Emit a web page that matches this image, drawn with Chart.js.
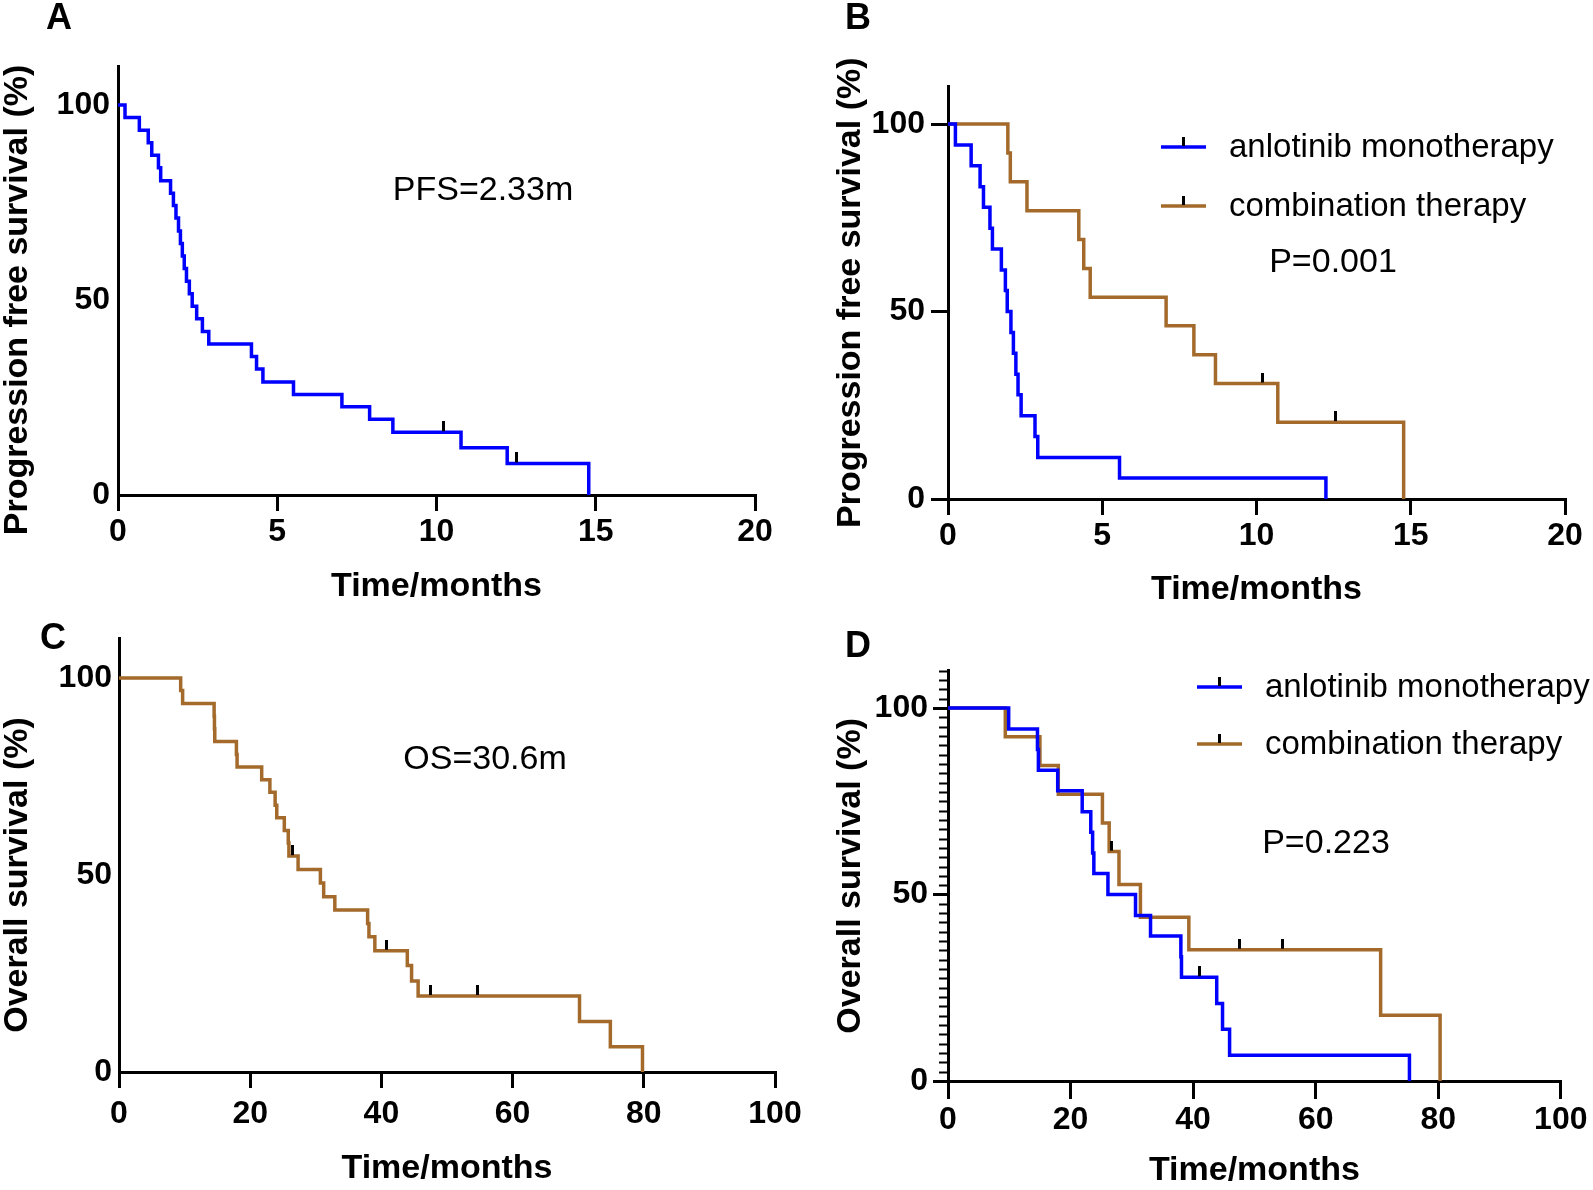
<!DOCTYPE html>
<html>
<head>
<meta charset="utf-8">
<script src="https://cdn.jsdelivr.net/npm/chart.js@4.4.1/dist/chart.umd.min.js"></script>
<style>
  body { margin: 0; background: #fff; }
  #wrap { position: relative; width: 1593px; height: 1190px; overflow: hidden; background: #fff; }
  canvas { position: absolute; }
</style>
</head>
<body>
<div id="wrap">
  <canvas id="chartA" width="796" height="604" style="left:0;top:0"></canvas>
  <canvas id="chartB" width="793" height="607" style="left:800px;top:0"></canvas>
  <canvas id="chartC" width="830" height="586" style="left:0;top:600px"></canvas>
  <canvas id="chartD" width="793" height="588" style="left:800px;top:600px"></canvas>
</div>
<script>
// ---- data (months, % surviving) ----
// A: PFS, all patients
const pfsAllTime = [0, 0.22, 0.67, 0.95, 1.06, 1.27, 1.34, 1.65, 1.74, 1.82, 1.9, 1.96, 2.02, 2.08, 2.15, 2.24, 2.33, 2.47, 2.65, 2.85, 4.19, 4.35, 4.55, 5.51, 7.03, 7.9, 8.63, 10.77, 12.22, 14.78];
const pfsAllSurv = [100, 96.8, 93.5, 90.3, 87.1, 83.9, 80.6, 77.4, 74.2, 71.0, 67.7, 64.5, 61.3, 58.1, 54.8, 51.6, 48.4, 45.2, 41.9, 38.7, 35.5, 32.3, 29.0, 25.8, 22.6, 19.4, 16.1, 12.1, 8.1, 0];
const pfsAllCensTime = [10.22, 12.52];
const pfsAllCensSurv = [16.1, 8.1];

// B: PFS by group
const pfsMonoTime = [0, 0.24, 0.75, 1.04, 1.15, 1.36, 1.44, 1.73, 1.86, 1.92, 2.04, 2.12, 2.2, 2.27, 2.37, 2.82, 2.91, 5.56, 12.25];
const pfsMonoSurv = [100, 94.4, 88.9, 83.3, 77.8, 72.2, 66.7, 61.1, 55.6, 50.0, 44.4, 38.9, 33.3, 27.8, 22.2, 16.7, 11.1, 5.6, 0];
const pfsComboTime = [0, 1.94, 2.02, 2.56, 4.24, 4.4, 4.61, 7.07, 7.97, 8.67, 10.69, 14.77];
const pfsComboSurv = [100, 92.3, 84.6, 76.9, 69.2, 61.5, 53.8, 46.2, 38.5, 30.8, 20.5, 0];
const pfsComboCensTime = [10.18, 12.55];
const pfsComboCensSurv = [30.8, 20.5];

// C: OS, all patients
const osAllTime = [0, 9.4, 9.7, 14.5, 14.55, 14.6, 17.9, 18.0, 21.75, 23.0, 23.8, 24.05, 25.2, 25.8, 25.9, 27.3, 30.7, 31.2, 32.9, 37.9, 38.1, 39.0, 43.95, 44.6, 45.6, 70.2, 74.9, 79.8];
const osAllSurv = [100, 96.8, 93.5, 90.3, 87.1, 83.9, 80.6, 77.4, 74.2, 71.0, 67.7, 64.5, 61.3, 58.1, 54.8, 51.4, 48.0, 44.5, 41.1, 37.7, 34.3, 30.8, 27.0, 23.1, 19.3, 12.8, 6.4, 0];
const osAllCensTime = [26.4, 40.8, 47.5, 54.6];
const osAllCensSurv = [54.8, 30.8, 19.3, 19.3];

// D: OS by group
const osMonoTime = [0, 9.9, 14.6, 14.75, 17.9, 21.9, 23.3, 23.6, 23.8, 26.1, 30.6, 33.05, 38.0, 38.1, 43.85, 44.8, 45.95, 75.3];
const osMonoSurv = [100, 94.4, 88.9, 83.3, 77.8, 72.2, 66.7, 61.1, 55.6, 50.0, 44.4, 38.9, 33.3, 27.8, 20.8, 13.9, 6.9, 0];
const osMonoCensTime = [41.1];
const osMonoCensSurv = [27.8];
const osComboTime = [0, 9.35, 15.0, 18.0, 25.2, 26.3, 27.9, 31.4, 39.3, 70.6, 80.3];
const osComboSurv = [100, 92.3, 84.6, 76.9, 69.2, 61.5, 52.7, 43.9, 35.2, 17.6, 0];
const osComboCensTime = [26.7, 47.6, 54.6];
const osComboCensSurv = [61.5, 35.2, 35.2];

const pfsTicks = [0, 5, 10, 15, 20];
const osTicks = [0, 20, 40, 60, 80, 100];
const survTicks = [0, 50, 100];
const groupNames = ['anlotinib monotherapy', 'combination therapy'];

const FONT = '"Liberation Sans", Arial, Helvetica, sans-serif';
const BLUE = '#0000ff';
const BROWN = '#a36a2b';
Chart.defaults.font.family = FONT;
Chart.defaults.color = '#000';

// little vertical censor tick, sitting above the point
const censorMark = document.createElement('canvas');
censorMark.width = 3;
censorMark.height = 22;
const cm = censorMark.getContext('2d');
cm.fillStyle = '#000';
cm.fillRect(0, 0, 3, 10);

function stepPoints(times, surv, cTimes, cSurv) {
  const pts = times.map((t, i) => ({ x: t, y: surv[i] }));
  (cTimes || []).forEach((t, i) => pts.push({ x: t, y: cSurv[i] }));
  return pts.sort((a, b) => a.x - b.x);
}

function curve(label, color, times, surv, cTimes, cSurv, order) {
  return {
    label: label,
    data: stepPoints(times, surv, cTimes, cSurv),
    borderColor: color,
    backgroundColor: color,
    borderWidth: 3.5,
    stepped: 'before',
    pointRadius: 0,
    fill: false,
    order: order
  };
}

function marks(cTimes, cSurv) {
  return {
    label: '',
    isCensor: true,
    data: cTimes.map((t, i) => ({ x: t, y: cSurv[i] })),
    showLine: false,
    pointStyle: censorMark,
    pointRadius: 5,
    order: 0
  };
}

const kmDecor = {
  id: 'kmDecor',
  afterDraw(chart, args, o) {
    const ctx = chart.ctx;
    const ys = chart.scales.y;
    const area = chart.chartArea;
    ctx.save();
    ctx.fillStyle = '#000';
    ctx.textAlign = 'center';
    ctx.textBaseline = 'middle';

    ctx.font = 'bold 36px ' + FONT;
    ctx.fillText(o.letter, o.letterX, o.letterY);

    ctx.save();
    ctx.translate(o.yTitleX, ys.getPixelForValue(o.yTitleAt));
    ctx.rotate(-Math.PI / 2);
    ctx.font = 'bold 34px ' + FONT;
    ctx.fillText(o.yTitle, 0, 0);
    ctx.restore();

    ctx.font = '34px ' + FONT;
    ctx.fillText(o.note, o.noteX, o.noteY);

    if (o.minorStep) {
      ctx.strokeStyle = '#000';
      ctx.lineWidth = 2;
      for (let v = 0; v <= ys.max + 0.01; v += o.minorStep) {
        if (v % 50 === 0) continue;
        const py = Math.round(ys.getPixelForValue(v)) + 0.5;
        ctx.beginPath();
        ctx.moveTo(area.left, py);
        ctx.lineTo(area.left - 9, py);
        ctx.stroke();
      }
    }

    if (o.legend) {
      const lines = chart.data.datasets.filter(d => !d.isCensor);
      ctx.textAlign = 'left';
      ctx.font = '33px ' + FONT;
      lines.forEach((ds, i) => {
        const y = o.legendY[i];
        ctx.strokeStyle = ds.borderColor;
        ctx.lineWidth = 3.5;
        ctx.beginPath();
        ctx.moveTo(o.legendX1, y);
        ctx.lineTo(o.legendX2, y);
        ctx.stroke();
        ctx.fillStyle = '#000';
        ctx.fillRect((o.legendX1 + o.legendX2) / 2 - 1.5, y - 10, 3, 9);
        ctx.fillText(ds.label, o.legendTextX, y + 1);
      });
    }
    ctx.restore();
  }
};

function kmChart(id, datasets, p) {
  return new Chart(document.getElementById(id), {
    type: 'line',
    data: { datasets: datasets },
    options: {
      responsive: false,
      animation: false,
      devicePixelRatio: 1,
      layout: { padding: { left: 0, top: p.top, right: p.right, bottom: 0 } },
      plugins: {
        legend: { display: false },
        tooltip: { enabled: false },
        kmDecor: p.decor
      },
      scales: {
        x: {
          type: 'linear',
          min: 0,
          max: p.xMax,
          afterFit: s => { s.height = p.xHeight; },
          afterBuildTicks: s => { s.ticks = p.xTicks.map(v => ({ value: v })); },
          ticks: { font: { size: 32, weight: 'bold', lineHeight: 1 }, padding: p.xPad, maxRotation: 0, autoSkip: false, color: '#000' },
          grid: { drawOnChartArea: false, drawTicks: true, tickLength: p.xTick, tickWidth: 3, tickColor: '#000', color: '#000', lineWidth: 3 },
          border: { display: true, color: '#000', width: 3 },
          title: { display: true, text: 'Time/months', color: '#000', font: { size: 34, weight: 'bold', lineHeight: 1 }, padding: 0 }
        },
        y: {
          type: 'linear',
          min: 0,
          max: 110,
          afterFit: s => { s.width = p.yWidth; },
          afterBuildTicks: s => { s.ticks = survTicks.map(v => ({ value: v })); },
          ticks: { font: { size: 32, weight: 'bold', lineHeight: 1 }, padding: p.yPad, color: '#000' },
          grid: { display: p.yTick > 0, drawOnChartArea: false, drawTicks: p.yTick > 0, tickLength: p.yTick, tickWidth: 3, tickColor: '#000', color: '#000', lineWidth: 3 },
          border: { display: true, color: '#000', width: 3 }
        }
      }
    },
    plugins: [kmDecor]
  });
}

// A
kmChart('chartA', [
  marks(pfsAllCensTime, pfsAllCensSurv),
  curve('all patients', BLUE, pfsAllTime, pfsAllSurv, pfsAllCensTime, pfsAllCensSurv, 1)
], {
  top: 66, right: 41, xHeight: 109, yWidth: 118, xMax: 20, xTicks: pfsTicks,
  xTick: 16, xPad: 5, yTick: 0, yPad: 8,
  decor: { letter: 'A', letterX: 59, letterY: 19, yTitle: 'Progression free survival (%)', yTitleX: 18, yTitleAt: 50,
           note: 'PFS=2.33m', noteX: 483, noteY: 191, legend: false }
});

// B
kmChart('chartB', [
  marks(pfsComboCensTime, pfsComboCensSurv),
  curve(groupNames[0], BLUE, pfsMonoTime, pfsMonoSurv, [], [], 1),
  curve(groupNames[1], BROWN, pfsComboTime, pfsComboSurv, pfsComboCensTime, pfsComboCensSurv, 2)
], {
  top: 86.5, right: 28, xHeight: 108, yWidth: 148, xMax: 20, xTicks: pfsTicks,
  xTick: 16, xPad: 5.5, yTick: 17, yPad: 6,
  decor: { letter: 'B', letterX: 58, letterY: 19, yTitle: 'Progression free survival (%)', yTitleX: 51, yTitleAt: 55,
           note: 'P=0.001', noteX: 533, noteY: 263, legend: true,
           legendX1: 361, legendX2: 406, legendTextX: 429, legendY: [147, 206] }
});

// C
kmChart('chartC', [
  marks(osAllCensTime, osAllCensSurv),
  curve('all patients', BROWN, osAllTime, osAllSurv, osAllCensTime, osAllCensSurv, 1)
], {
  top: 38.6, right: 55, xHeight: 114, yWidth: 119, xMax: 100, xTicks: osTicks,
  xTick: 16, xPad: 10.5, yTick: 0, yPad: 7,
  decor: { letter: 'C', letterX: 53, letterY: 39, yTitle: 'Overall survival (%)', yTitleX: 18, yTitleAt: 50,
           note: 'OS=30.6m', noteX: 485, noteY: 160, legend: false }
});

// D
kmChart('chartD', [
  marks(osMonoCensTime, osMonoCensSurv),
  marks(osComboCensTime, osComboCensSurv),
  curve(groupNames[0], BLUE, osMonoTime, osMonoSurv, osMonoCensTime, osMonoCensSurv, 1),
  curve(groupNames[1], BROWN, osComboTime, osComboSurv, osComboCensTime, osComboCensSurv, 2)
], {
  top: 70.7, right: 28, xHeight: 107, yWidth: 148, xMax: 100, xTicks: osTicks,
  xTick: 18, xPad: 5.5, yTick: 15, yPad: 5,
  decor: { letter: 'D', letterX: 58, letterY: 47, yTitle: 'Overall survival (%)', yTitleX: 51, yTitleAt: 55,
           note: 'P=0.223', noteX: 526, noteY: 244, legend: true, minorStep: 2.5,
           legendX1: 397, legendX2: 442, legendTextX: 465, legendY: [87, 144] }
});
</script>
</body>
</html>
